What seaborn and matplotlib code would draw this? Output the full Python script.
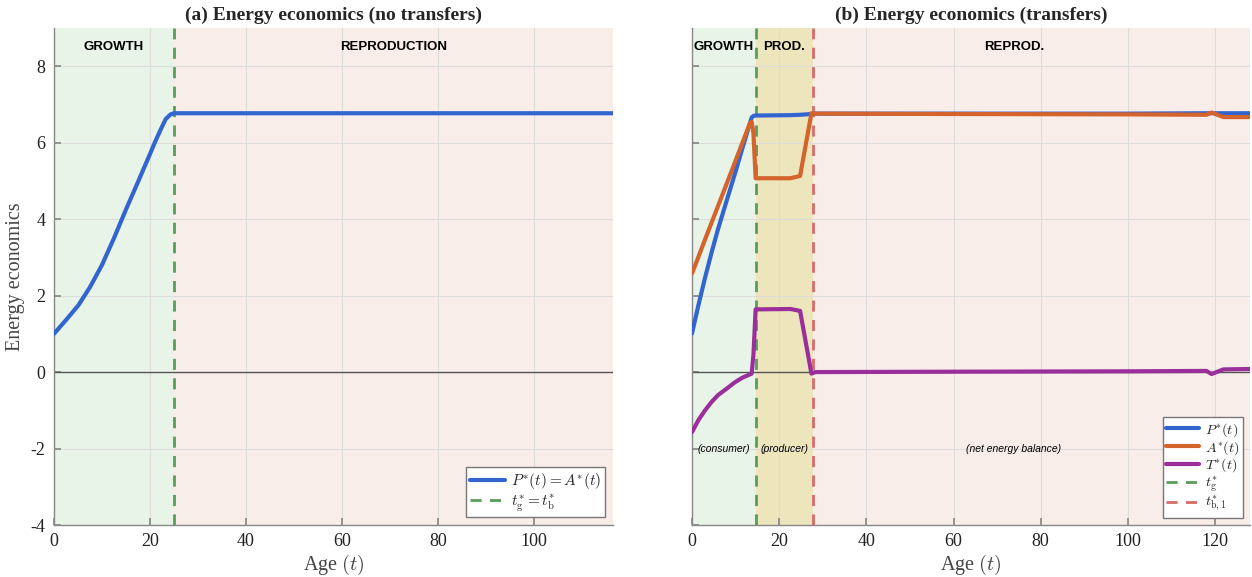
import matplotlib
matplotlib.use("Agg")
import matplotlib.pyplot as plt
import numpy as np
import pandas as pd
import seaborn as sns

# ---- (a) no transfers: production equals acquisition ----
ages_a = [0, 2.5, 5.1, 7.5, 10, 12.5, 15, 17.5, 20, 21, 22.3, 23.3, 24.3, 25, 116.5]
p_a = [1.0, 1.36, 1.75, 2.22, 2.8, 3.5, 4.25, 4.97, 5.7, 6.0, 6.36, 6.62, 6.74, 6.77, 6.77]
t_g_a = 25.0

# ---- (b) with transfers ----
ages_b = [0, 1.5, 3, 4.5, 6, 8, 9.8, 11.5, 13.3, 13.7, 14.1, 14.6, 22.6, 24.8,
          27.4, 28.3, 60, 100, 118, 119.2, 121.9, 128]
p_b = [1.01, 1.76, 2.47, 3.13, 3.75, 4.5, 5.17, 5.83, 6.51, 6.66, 6.70, 6.71,
       6.72, 6.73, 6.75, 6.76, 6.76, 6.76, 6.77, 6.77, 6.77, 6.77]
a_b = [2.58, 3.02, 3.47, 3.91, 4.35, 4.94, 5.47, 5.98, 6.51, 6.55, 6.24, 5.07,
       5.07, 5.13, 6.77, 6.76, 6.75, 6.74, 6.73, 6.79, 6.67, 6.67]
t_b = [-1.57, -1.25, -1.0, -0.78, -0.6, -0.43, -0.27, -0.15, -0.06, -0.04, 0.46, 1.64,
       1.65, 1.60, -0.04, 0.0, 0.01, 0.02, 0.03, -0.05, 0.07, 0.08]
t_g_b = 14.6
t_b1 = 27.7

x_ticks = [0, 20, 40, 60, 80, 100, 120]
y_ticks = [-4, -2, 0, 2, 4, 6, 8]

sns.set_theme(style="white")
plt.rcParams["font.family"] = ["Liberation Serif", "DejaVu Serif"]
plt.rcParams["mathtext.fontset"] = "cm"
plt.rcParams["axes.unicode_minus"] = False

BLUE = "#3365d1"
ORANGE = "#d4632c"
PURPLE = "#9a2f9c"
GREEN = "#5a9c5a"
RED = "#d96b6b"
SH_GREEN = "#e9f4e8"
SH_PINK = "#f9ede9"
SH_YELLOW = "#ede6bc"
GRID = "#dcdcdc"

fig = plt.figure(figsize=(12.52, 5.77), dpi=100)
ax1 = fig.add_axes([0.0431, 0.0901, 0.4465, 0.8614])
ax2 = fig.add_axes([0.5527, 0.0901, 0.4457, 0.8614])


def style_axes(ax, xmax, show_ylabels):
    ax.set_xlim(0, xmax)
    ax.set_ylim(-4, 9)
    ax.set_xticks([v for v in x_ticks if v <= xmax])
    ax.set_yticks(y_ticks)
    ax.grid(True, color=GRID, lw=0.8, zorder=1)
    ax.set_axisbelow(True)
    for s in ("top", "right"):
        ax.spines[s].set_visible(False)
    for s in ("left", "bottom"):
        ax.spines[s].set_color("#888888")
        ax.spines[s].set_linewidth(1.0)
    ax.tick_params(direction="in", length=5, color="#888888", labelsize=13,
                   left=True, bottom=True, labelcolor="#222222", pad=6)
    if not show_ylabels:
        ax.tick_params(labelleft=False)
    ax.axhline(0, color="#555555", lw=1.0, zorder=2)


def axis_labels(ax):
    ax.set_xlabel("Age $(t)$", fontsize=14.5, color="#444444", labelpad=2)
    ax.set_ylabel("Energy economics", fontsize=14.5, color="#444444", labelpad=4)


def phase_label(ax, x, text):
    ax.text(x, 8.5, text, ha="center", va="center", fontsize=9.5,
            fontweight="bold", family="Liberation Sans", color="black")


def role_label(ax, x, text):
    ax.text(x, -2.0, text, ha="center", va="center", fontsize=7.5,
            style="italic", family="Liberation Sans", color="black")


# ---- panel (a) ----
xmax_a = 116.5
ax1.axvspan(0, t_g_a, color=SH_GREEN, zorder=0, lw=0)
ax1.axvspan(t_g_a, xmax_a, color=SH_PINK, zorder=0, lw=0)
style_axes(ax1, xmax_a, True)
df_a = pd.DataFrame({"age": ages_a, "P": p_a})
sns.lineplot(data=df_a, x="age", y="P", ax=ax1, color=BLUE, lw=3,
             label=r"$P^{*}(t) = A^{*}(t)$", zorder=4)
ax1.axvline(t_g_a, color=GREEN, lw=2, ls=(0, (4, 3)), zorder=3,
            label=r"$t^{*}_{\rm g} = t^{*}_{\rm b}$")
axis_labels(ax1)
phase_label(ax1, t_g_a / 2, "GROWTH")
phase_label(ax1, (t_g_a + xmax_a) / 2, "REPRODUCTION")
ax1.set_title("(a) Energy economics (no transfers)", fontsize=14,
              fontweight="bold", pad=6)
leg1 = ax1.legend(loc="lower right", fontsize=11, frameon=True, fancybox=False,
                  edgecolor="#777777", framealpha=1, borderpad=0.25,
                  handlelength=2.3, handletextpad=0.4, labelspacing=0.1,
                  borderaxespad=0.5)
leg1.get_frame().set_linewidth(1.0)

# ---- panel (b) ----
xmax_b = 128
ax2.axvspan(0, t_g_b, color=SH_GREEN, zorder=0, lw=0)
ax2.axvspan(t_g_b, t_b1, color=SH_YELLOW, zorder=0, lw=0)
ax2.axvspan(t_b1, xmax_b, color=SH_PINK, zorder=0, lw=0)
style_axes(ax2, xmax_b, False)
df_b = pd.DataFrame({"age": ages_b, "P": p_b, "A": a_b, "T": t_b})
sns.lineplot(data=df_b, x="age", y="P", ax=ax2, color=BLUE, lw=3,
             label=r"$P^{*}(t)$", zorder=4)
sns.lineplot(data=df_b, x="age", y="A", ax=ax2, color=ORANGE, lw=3,
             label=r"$A^{*}(t)$", zorder=5)
sns.lineplot(data=df_b, x="age", y="T", ax=ax2, color=PURPLE, lw=3,
             label=r"$T^{*}(t)$", zorder=5)
ax2.axvline(t_g_b, color=GREEN, lw=2, ls=(0, (4, 3)), zorder=3,
            label=r"$t^{*}_{\rm g}$")
ax2.axvline(t_b1, color=RED, lw=2, ls=(0, (4, 3)), zorder=3,
            label=r"$t^{*}_{{\rm b},1}$")
axis_labels(ax2)
reprod_mid = (t_b1 + 120) / 2
for x, top, bottom in [(t_g_b / 2, "GROWTH", "(consumer)"),
                       ((t_g_b + t_b1) / 2, "PROD.", "(producer)"),
                       (reprod_mid, "REPROD.", "(net energy balance)")]:
    phase_label(ax2, x, top)
    role_label(ax2, x, bottom)
ax2.set_title("(b) Energy economics (transfers)", fontsize=14,
              fontweight="bold", pad=6)
leg2 = ax2.legend(loc="lower right", fontsize=10.2, frameon=True, fancybox=False,
                  edgecolor="#777777", framealpha=1, borderpad=0.25,
                  handlelength=2.3, handletextpad=0.4, labelspacing=0.0,
                  borderaxespad=0.5)
leg2.get_frame().set_linewidth(1.0)

fig.savefig("out.png", dpi=100)
